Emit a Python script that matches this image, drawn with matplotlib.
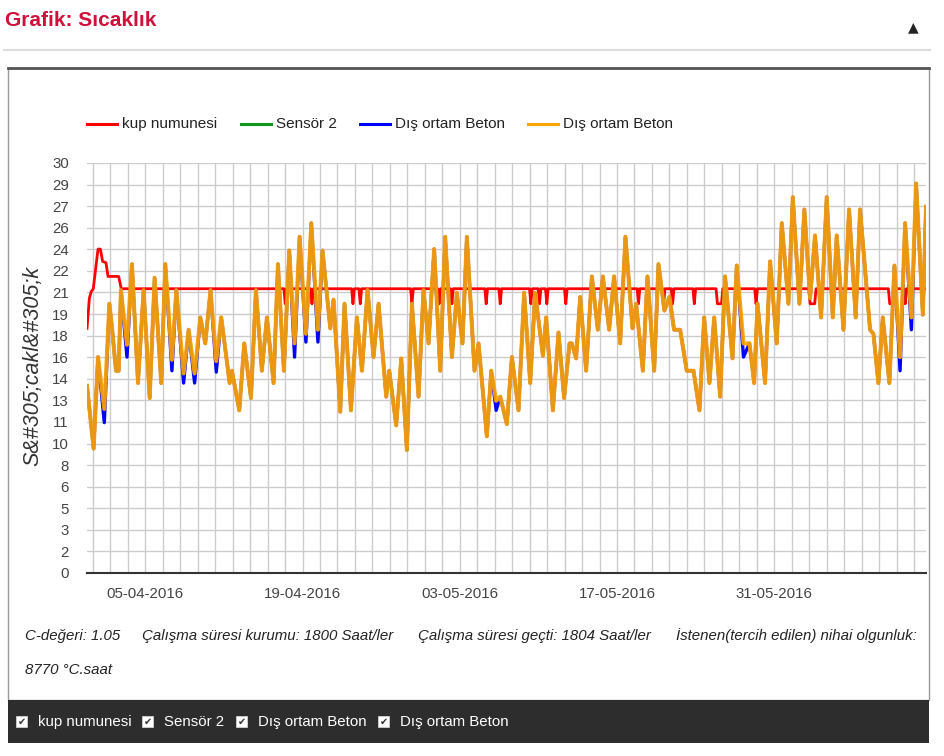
import numpy as np
import pandas as pd
import matplotlib
matplotlib.use('Agg')
import matplotlib.pyplot as plt
from matplotlib.patches import Rectangle
from matplotlib.lines import Line2D

# time axis in days since 05-04-2016 00:00
start_date = pd.Timestamp('2016-04-05')

orange_t = [-5.19, -4.60, -4.21, -3.65, -3.20, -2.97, -2.61, -2.37, -2.17, -1.63,
            -1.19, -0.65, -0.15, 0.39, 0.83, 1.42, 1.78, 2.37, 2.76, 3.41,
            3.86, 4.39, 4.90, 5.34, 5.81, 6.32, 6.76, 7.51, 7.71, 8.37,
            8.81, 9.41, 9.85, 10.38, 10.83, 11.42, 11.81, 12.34, 12.82, 13.29,
            13.74, 14.30, 14.78, 15.37, 15.78, 16.47, 16.76, 17.36, 17.74, 18.31,
            18.84, 19.29, 19.79, 20.32, 20.77, 21.45, 21.72, 22.34, 22.79, 23.29,
            23.74, 24.33, 24.77, 25.22, 25.72, 26.26, 26.70, 27.30, 27.74, 28.24,
            28.63, 29.31, 29.67, 30.41, 30.80, 31.24, 31.60, 32.19, 32.64, 33.23,
            33.73, 34.27, 34.71, 35.40, 35.69, 36.29, 36.79, 37.29, 37.77, 37.98,
            38.36, 38.72, 39.25, 39.76, 40.29, 40.74, 41.30, 41.74, 42.28, 42.75,
            43.38, 43.70, 44.30, 44.71, 45.31, 45.69, 46.22, 46.67, 47.08, 47.62,
            48.21, 48.81, 49.34, 49.76, 50.23, 50.65, 51.18, 51.62, 52.28, 52.66,
            53.26, 53.79, 54.21, 54.51, 55.18, 55.63, 56.22, 56.67, 57.26, 57.65,
            58.24, 58.68, 59.19, 59.63, 60.17, 60.67, 61.21, 61.56, 62.16, 62.66,
            63.25, 63.64, 64.53, 64.83, 65.27, 65.66, 66.25, 66.70, 67.20, 67.65,
            68.21, 68.63, 69.23, 69.51]
orange_v = [13.7, 9.1, 15.8, 12.0, 19.7, 18.0, 14.8, 14.8, 20.7, 16.7,
            22.6, 13.9, 20.7, 12.8, 21.6, 13.9, 22.6, 15.6, 20.7, 14.6,
            17.8, 14.6, 18.7, 16.8, 20.7, 15.5, 18.7, 13.9, 14.8, 11.9,
            16.8, 12.8, 20.7, 14.8, 18.7, 13.9, 22.6, 14.8, 23.6, 16.8,
            24.6, 17.5, 25.6, 17.8, 23.6, 17.9, 20.0, 11.8, 19.7, 11.9,
            18.7, 14.8, 20.7, 15.8, 19.7, 12.9, 14.8, 10.8, 15.7, 9.0,
            19.7, 12.9, 20.7, 16.8, 23.7, 14.8, 24.6, 15.8, 20.5, 16.8,
            24.6, 14.8, 16.8, 10.0, 14.8, 12.6, 12.9, 10.9, 15.8, 11.9,
            20.5, 13.9, 20.5, 15.9, 18.7, 11.9, 17.6, 12.8, 16.8, 16.8,
            15.7, 20.2, 14.8, 21.7, 17.8, 21.7, 17.8, 21.7, 16.8, 24.6,
            17.9, 19.7, 14.8, 21.7, 14.8, 22.6, 19.2, 20.2, 17.8, 17.8,
            14.8, 14.8, 11.9, 18.7, 13.9, 18.7, 12.9, 21.7, 15.7, 22.5,
            16.8, 16.8, 13.9, 19.7, 13.9, 22.8, 16.8, 25.6, 19.7, 27.5,
            19.7, 26.6, 20.1, 24.7, 18.7, 27.5, 18.7, 24.7, 17.8, 26.6,
            18.7, 26.6, 17.8, 17.5, 13.9, 18.7, 13.9, 22.5, 15.8, 25.6,
            18.7, 28.5, 18.9, 26.8]

# troughs where the blue series runs below the orange one
blue_dip_t = [-3.65, -1.63, 2.37, 3.41, 4.39, 6.32, 13.29, 14.30, 15.37, 31.24, 53.26, 67.20, 68.21]
blue_dip_v = [11.0, 15.8, 14.8, 13.9, 13.9, 14.7, 15.8, 16.9, 16.9, 11.9, 15.8, 14.8, 17.8]

# red: warm-up at the start, then a flat level with short dips
red_head_t = [-5.19, -4.98, -4.81, -4.63, -4.21, -4.00, -3.80, -3.50, -3.32, -2.37, -2.14]
red_head_v = [17.9, 20.1, 20.6, 20.8, 23.7, 23.7, 22.8, 22.7, 21.7, 21.7, 20.8]
red_level = 20.8
red_low = 19.7
red_dips = [(12.46, 12.46), (14.84, 14.84), (18.49, 18.49), (19.14, 19.14), (23.74, 23.74),
            (26.17, 26.17), (27.30, 27.30), (30.35, 30.35), (31.60, 31.60), (34.33, 34.33),
            (35.10, 35.10), (35.75, 35.75), (37.44, 37.44), (43.91, 43.91), (46.15, 46.15),
            (46.95, 46.95), (48.88, 48.88), (50.94, 51.30), (54.38, 54.38), (59.19, 59.60),
            (66.28, 66.60), (67.65, 67.65)]

green_t = []
green_v = []

series_labels = ['kup numunesi', 'Sensör 2', 'Dış ortam Beton', 'Dış ortam Beton']
series_colors = ['#ff0000', '#109618', '#0000ff', '#ffa500']

y_ticks = np.linspace(0, 30, 20)
y_tick_labels = ['0', '2', '3', '5', '6', '8', '10', '11', '13', '14',
                 '16', '18', '19', '21', '22', '24', '26', '27', '29', '30']
x_label_days = [0, 14, 28, 42, 56]

footer_parts = ['C-değeri: 1.05', 'Çalışma süresi kurumu: 1800 Saat/ler',
                'Çalışma süresi geçti: 1804 Saat/ler', 'İstenen(tercih edilen) nihai olgunluk:']
footer_second = '8770 °C.saat'

# build red and blue polylines
red_t = list(red_head_t)
red_v = list(red_head_v)
for a, b in red_dips:
    red_t += [a - 0.12, a, b, b + 0.12]
    red_v += [red_level, red_low, red_low, red_level]
red_t.append(orange_t[-1])
red_v.append(red_level)

blue_v = list(orange_v)
for t, v in zip(blue_dip_t, blue_dip_v):
    blue_v[orange_t.index(t)] = v

W, H = 944, 756
plt.rcParams['font.family'] = ['Liberation Sans', 'DejaVu Sans']

fig = plt.figure(figsize=(W / 100, H / 100), dpi=100)


def fx(x):
    return x / W


def fy(y):
    return 1 - y / H


# page furniture
fig.text(fx(5), fy(21), 'Grafik: Sıcaklık', color='#d0103a', fontsize=15,
         fontweight='bold', ha='left', va='center')
fig.text(fx(913), fy(27), '▲', color='#222222', fontsize=10, family='DejaVu Sans',
         ha='center', va='center')
fig.add_artist(Line2D([fx(4), fx(930)], [fy(50), fy(50)], color='#dddddd', lw=1.5))
fig.add_artist(Rectangle((fx(8), fy(700)), fx(921), (700 - 68) / H, facecolor='white',
                         edgecolor='#999999', lw=1, zorder=0))
fig.add_artist(Line2D([fx(8), fx(929)], [fy(68), fy(68)], color='#555555', lw=2))
fig.add_artist(Rectangle((fx(8), fy(743)), fx(921), 43 / H, facecolor='#2d2d2d',
                         edgecolor='none'))

ax = fig.add_axes([fx(87), fy(573), (926 - 87) / W, (573 - 163) / H])
ax.set_facecolor('none')

lines = []
lines.append(ax.plot(red_t, red_v, color=series_colors[0], lw=2.0,
                     solid_joinstyle='round')[0])
lines.append(ax.plot(green_t, green_v, color=series_colors[1], lw=2.0)[0])
lines.append(ax.plot(orange_t, blue_v, color=series_colors[2], lw=2.4,
                     solid_joinstyle='round')[0])
lines.append(ax.plot(orange_t, orange_v, color=series_colors[3], lw=2.9, alpha=0.92,
                     solid_joinstyle='round')[0])

ax.set_xlim(orange_t[0], orange_t[-1])
ax.set_ylim(0, 30)
ax.set_yticks(y_ticks)
ax.set_yticklabels(y_tick_labels)
ax.set_xticks(x_label_days)
ax.set_xticklabels([(start_date + pd.Timedelta(days=d)).strftime('%d-%m-%Y') for d in x_label_days])
ax.set_xticks(np.arange(-3, 45) * 14 / 9, minor=True)
ax.grid(axis='y', color='#cccccc', lw=1)
ax.grid(axis='x', which='both', color='#cccccc', lw=1)
ax.set_axisbelow(True)
ax.tick_params(axis='both', which='both', length=0, labelsize=10.8, colors='#444444')
ax.tick_params(axis='y', pad=13)
ax.tick_params(axis='x', pad=10)
for side in ['top', 'right', 'left']:
    ax.spines[side].set_visible(False)
ax.spines['bottom'].set_color('#333333')
ax.spines['bottom'].set_linewidth(1.5)

fig.text(fx(33), fy(366), 'S&#305;cakl&#305;k', rotation=90, style='italic',
         fontsize=15.5, color='#333333', ha='center', va='center')

# legend
legend_x = [87, 241, 360, 528]
for x0, lab, line in zip(legend_x, series_labels, lines):
    fig.add_artist(Line2D([fx(x0), fx(x0 + 30)], [fy(124), fy(124)], color=line.get_color(), lw=2.2))
    fig.text(fx(x0 + 35), fy(124), lab, fontsize=11, color='#222222', ha='left', va='center')

# footer info
for x0, part in zip([25, 142, 418, 676], footer_parts):
    fig.text(fx(x0), fy(636), part, style='italic', fontsize=10.8, color='#222222',
             ha='left', va='center')
fig.text(fx(25), fy(670), footer_second, style='italic', fontsize=10.8, color='#222222',
         ha='left', va='center')

# bottom bar with checkboxes
box_x = [16, 142, 236, 378]
for bx, lab in zip(box_x, series_labels):
    fig.add_artist(Rectangle((fx(bx), fy(727)), 11 / W, 11 / H, facecolor='white',
                             edgecolor='#dddddd', lw=0.5))
    fig.text(fx(bx + 5.5), fy(721.5), '✔', family='DejaVu Sans', fontsize=7,
             color='#333333', ha='center', va='center')
    fig.text(fx(bx + 22), fy(722), lab, fontsize=10.8, color='white', ha='left', va='center')

fig.savefig('out.png', dpi=100)
